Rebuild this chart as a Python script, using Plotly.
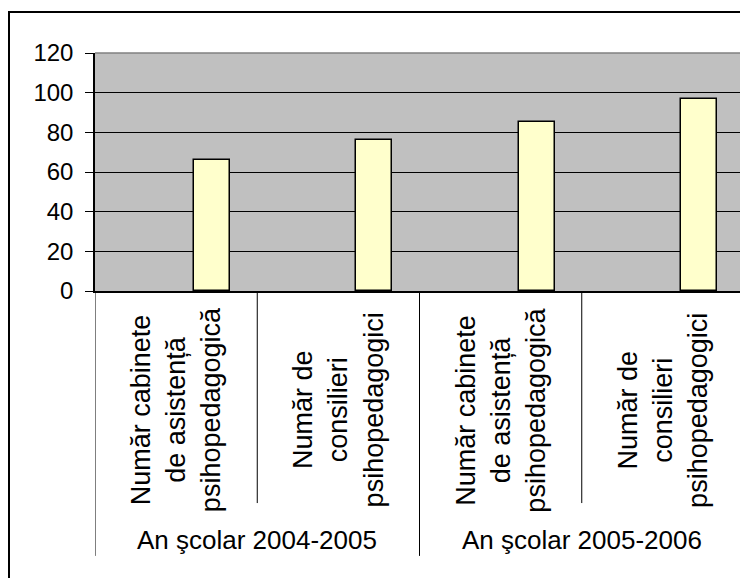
import plotly.graph_objects as go

groups = ["An şcolar 2004-2005", "An şcolar 2005-2006"]
subcats = ["Număr cabinete<br>de asistență<br>psihopedagogică",
           "Număr de<br>consilieri<br>psihopedagogici"]
values = [66, 76, 85, 97]
y_ticks = [0, 20, 40, 60, 80, 100, 120]

keys = [f"{g} | {s}" for g in groups for s in subcats]
sub_labels = [s for g in groups for s in subcats]

FONT = "Liberation Sans, Arial, sans-serif"

# page body has an 8px default margin, so the figure origin sits at (8, 8)
PL, PT, PW, PH = 87, 45, 649, 238
FIG_W, FIG_H = 740, 570

fig = go.Figure()
fig.add_trace(go.Bar(
    x=keys, y=values,
    width=0.222, offset=0.111,
    marker=dict(color="#FFFFCC", line=dict(color="black", width=1.5)),
    hoverinfo="y",
))

shapes = []
# outer frame (extends past the canvas on right and bottom)
shapes.append(dict(type="rect", xref="paper", yref="paper",
                   x0=(1 - PL) / PW, x1=1.2, y0=-1.5, y1=1 + (PT - 4) / PH,
                   line=dict(color="black", width=2), fillcolor="rgba(0,0,0,0)",
                   layer="below"))
# plot area top/right border in grey
shapes.append(dict(type="line", xref="paper", yref="paper", x0=0, x1=1, y0=1, y1=1,
                   line=dict(color="#808080", width=1.5), layer="above"))
shapes.append(dict(type="line", xref="paper", yref="paper", x0=1, x1=1, y0=0, y1=1,
                   line=dict(color="#808080", width=1.5), layer="above"))
# category dividers below the axis
n = len(keys)
for i in range(n + 1):
    xpos = i - 0.5
    is_group = (i % len(subcats) == 0)
    shapes.append(dict(type="line", xref="x", yref="paper",
                       x0=xpos, x1=xpos, y0=0,
                       y1=(-1.113 if is_group else -0.891),
                       line=dict(color="black", width=1)))

annotations = []
for i, lab in enumerate(sub_labels):
    annotations.append(dict(x=keys[i], xref="x", y=-0.5, yref="paper",
                            text=lab, textangle=-90, showarrow=False,
                            align="center", xanchor="center", yanchor="middle",
                            font=dict(family=FONT, size=27, color="black")))
for gi, g in enumerate(groups):
    annotations.append(dict(x=gi * len(subcats) + (len(subcats) - 1) / 2, xref="x",
                            y=-1.046, yref="paper", text=g, showarrow=False,
                            xanchor="center", yanchor="middle",
                            font=dict(family=FONT, size=26, color="black")))

fig.update_layout(
    width=FIG_W, height=FIG_H,
    margin=dict(l=PL, r=FIG_W - PL - PW, t=PT, b=FIG_H - PT - PH, pad=0),
    paper_bgcolor="white", plot_bgcolor="#C0C0C0",
    showlegend=False,
    font=dict(family=FONT, color="black"),
    shapes=shapes, annotations=annotations,
    bargap=0,
)
fig.update_xaxes(type="category", showticklabels=False, ticks="",
                 showline=True, linecolor="black", linewidth=1.5,
                 showgrid=False, zeroline=False, range=[-0.5, n - 0.5])
fig.update_yaxes(range=[0, 120], tickvals=y_ticks, showgrid=True,
                 gridcolor="black", gridwidth=1, zeroline=False,
                 showline=True, linecolor="black", linewidth=1.5,
                 ticks="outside", ticklen=8, tickcolor="black", tickwidth=1,
                 ticklabelstandoff=7,
                 tickfont=dict(family=FONT, size=24, color="black"))

fig.write_html("out.html")
